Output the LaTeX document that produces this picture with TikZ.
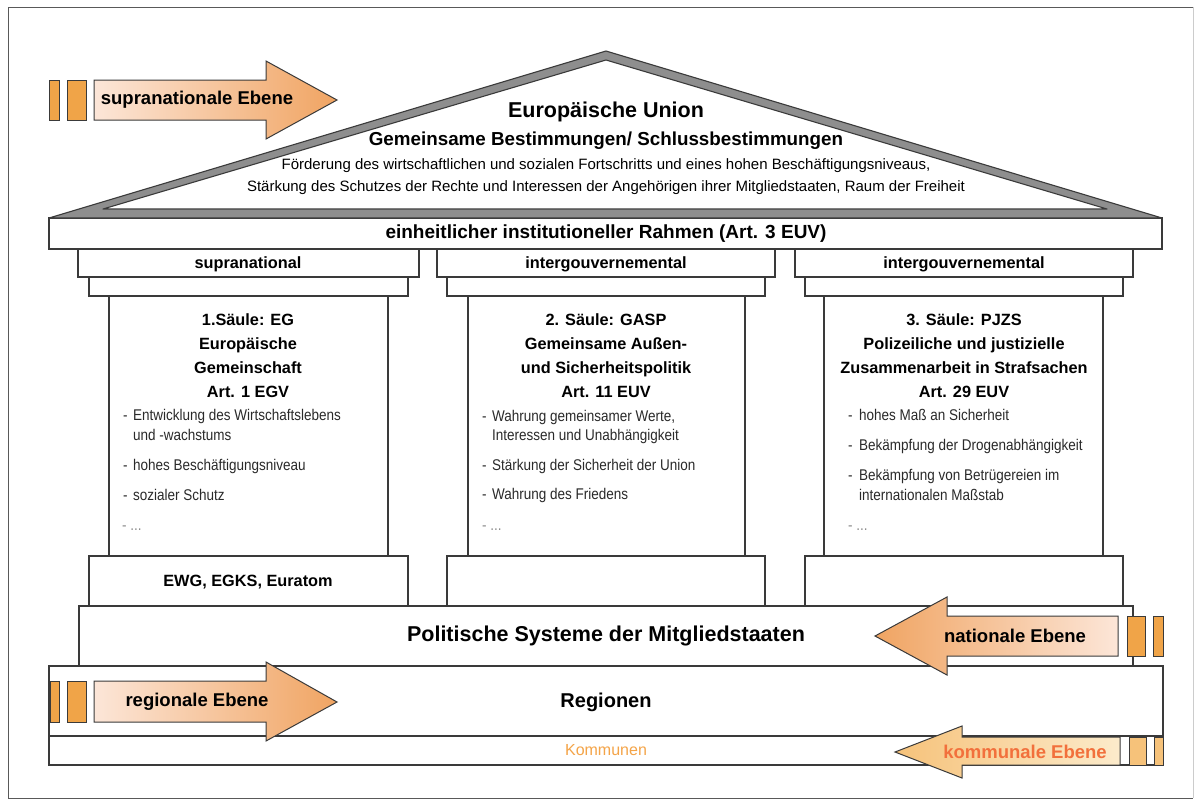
\documentclass[tikz,border=0pt]{standalone}
\usepackage{fontspec}
\setmainfont{Liberation Sans}
\newfontfamily\narrowfont{Liberation Sans}[FakeStretch=0.87]
\definecolor{linec}{HTML}{3A3A3A}
\definecolor{roofgray}{HTML}{8E8E8E}
\definecolor{orbar}{HTML}{F0A448}
\definecolor{orhead}{HTML}{F0A462}
\definecolor{orlight}{HTML}{FCE6D8}
\definecolor{kyel}{HTML}{F6C27A}
\definecolor{klight}{HTML}{FCEBCB}
\definecolor{ktext}{HTML}{F2703C}
\definecolor{kommc}{HTML}{F4A448}
\definecolor{itemc}{HTML}{2A2A2A}
\begin{document}
\begin{tikzpicture}[x=1pt,y=-1pt,
  box/.style={draw=linec, line width=1.1pt, fill=white},
  roofout/.style={draw=linec, line width=1.1pt, fill=roofgray, line join=round},
  roofin/.style={draw=linec, line width=1.1pt, fill=white, line join=round},
  arrR/.style={draw=linec, line width=1pt, left color=orlight, right color=orhead},
  arrL/.style={draw=linec, line width=1pt, left color=orhead, right color=orlight},
  arrK/.style={draw=linec, line width=1pt, left color=kyel, right color=klight},
  bar/.style={draw=linec, line width=0.9pt, fill=orbar},
  kbar/.style={draw=linec, line width=0.9pt, fill=kyel},
  title/.style={font=\bfseries\fontsize{21.5}{25}\selectfont},
  subtitle/.style={font=\bfseries\fontsize{18.8}{21}\selectfont},
  rooftext/.style={font=\fontsize{15}{22}\selectfont, align=center},
  bandtext/.style={font=\bfseries\fontsize{19}{22}\selectfont},
  captext/.style={font=\bfseries\fontsize{16.3}{19}\selectfont},
  headtext/.style={font=\bfseries\fontsize{16.3}{24}\selectfont, align=center},
  itemtext/.style={font=\narrowfont\fontsize{15.5}{17}\selectfont, anchor=base west, inner sep=0pt, text=itemc},
  dimtext/.style={font=\narrowfont\fontsize{15.5}{17}\selectfont, anchor=base west, inner sep=0pt, text=black!45},
  arrtext/.style={font=\bfseries\fontsize{18.5}{21}\selectfont}
]
\useasboundingbox (0,0) rectangle (1196,801);
\fill[white] (0,0) rectangle (1196,801);
% frame
\draw[black!65, line width=1pt] (1193,7) -- (8,7) -- (8,798) -- (1193,798);
\draw[black!20, line width=1pt] (1193,7) -- (1193,798);

% lower bands
\draw[box] (49,736) rectangle (1163,765);
\draw[box] (49,666) rectangle (1163,736);
\draw[box] (79,606) rectangle (1133,666);

% pillars
\foreach \a/\b/\c/\d/\e/\f in {78/419/89/408/109/388, 437/775/447/765/468/745, 795/1133/805/1123/824/1103}{
  \draw[box] (\c,556) rectangle (\d,606);
  \draw[box] (\e,296) rectangle (\f,556);
  \draw[box] (\c,277) rectangle (\d,296);
  \draw[box] (\a,249) rectangle (\b,277);
}

% main band
\draw[box] (49,218) rectangle (1162,249);
% roof
\draw[roofout] (49,218) -- (606,51) -- (1162,218) -- cycle;
\draw[roofin] (103,209) -- (606,60) -- (1107,209) -- cycle;

% roof texts
\node[title] (eu) at (606,112) {Europäische Union};
\node[subtitle] (gb) at (606,141) {Gemeinsame Bestimmungen/ Schlussbestimmungen};
\node[rooftext] (ziele) at (606,177) {Förderung des wirtschaftlichen und sozialen Fortschritts und eines hohen Beschäftigungsniveaus,\\Stärkung des Schutzes der Rechte und Interessen der Angehörigen ihrer Mitgliedstaaten, Raum der Freiheit};
\node[bandtext] (rahmen) at (606,234) {einheitlicher institutioneller Rahmen (Art. 3 EUV)};

% capitals
\node[captext] (c1) at (248,264) {supranational};
\node[captext] (c2) at (606,264) {intergouvernemental};
\node[captext] (c3) at (964,264) {intergouvernemental};

% pillar headings
\node[headtext] (h1) at (248,356) {1.Säule: EG\\Europäische\\Gemeinschaft\\Art. 1 EGV};
\node[headtext] (h2) at (606,356) {2. Säule: GASP\\Gemeinsame Außen-\\und Sicherheitspolitik\\Art. 11 EUV};
\node[headtext] (h3) at (964,356) {3. Säule: PJZS\\Polizeiliche und justizielle\\Zusammenarbeit in Strafsachen\\Art. 29 EUV};

% pillar 1 items
\node[itemtext] (d1a) at (123,420) {-};
\node[itemtext] (i1a) at (133,420) {Entwicklung des Wirtschaftslebens};
\node[itemtext] (i1b) at (133,440) {und -wachstums};
\node[itemtext] (d1c) at (123,470) {-};
\node[itemtext] (i1c) at (133,470) {hohes Beschäftigungsniveau};
\node[itemtext] (d1d) at (123,500) {-};
\node[itemtext] (i1d) at (133,500) {sozialer Schutz};
\node[dimtext] (i1e) at (122,530) {- ...};

% pillar 2 items
\node[itemtext] (d2a) at (482,421) {-};
\node[itemtext] (i2a) at (492,421) {Wahrung gemeinsamer Werte,};
\node[itemtext] (i2b) at (492,440) {Interessen und Unabhängigkeit};
\node[itemtext] (d2c) at (482,470) {-};
\node[itemtext] (i2c) at (492,470) {Stärkung der Sicherheit der Union};
\node[itemtext] (d2d) at (482,499) {-};
\node[itemtext] (i2d) at (492,499) {Wahrung des Friedens};
\node[dimtext] (i2e) at (482,530) {- ...};

% pillar 3 items
\node[itemtext] (d3a) at (848,420) {-};
\node[itemtext] (i3a) at (859,420) {hohes Maß an Sicherheit};
\node[itemtext] (d3b) at (848,450) {-};
\node[itemtext] (i3b) at (859,450) {Bekämpfung der Drogenabhängigkeit};
\node[itemtext] (d3c) at (848,480) {-};
\node[itemtext] (i3c) at (859,480) {Bekämpfung von Betrügereien im};
\node[itemtext] (i3d) at (859,500) {internationalen Maßstab};
\node[dimtext] (i3e) at (848,530) {- ...};

% bases and bands text
\node[captext] (ewg) at (248,582) {EWG, EGKS, Euratom};
\node[title] (pol) at (606,636) {Politische Systeme der Mitgliedstaaten};
\node[font=\bfseries\fontsize{20}{24}\selectfont] (reg) at (606,702) {Regionen};
\node[font=\fontsize{16}{19}\selectfont, text=kommc] (komm) at (606,750) {Kommunen};

% supranationale arrow
\draw[bar] (49,80) rectangle (59,120);
\draw[bar] (67,80) rectangle (86,120);
\shadedraw[arrR] (94,80) -- (266,80) -- (266,61) -- (337,100) -- (266,139) -- (266,120) -- (94,120) -- cycle;
\node[arrtext] (supra) at (197,100) {supranationale Ebene};

% regionale arrow
\draw[bar] (50,681) rectangle (59,722);
\draw[bar] (67,681) rectangle (86,722);
\shadedraw[arrR] (94,681) -- (266,681) -- (266,662) -- (337,702) -- (266,741) -- (266,722) -- (94,722) -- cycle;
\node[arrtext] (regio) at (197,702) {regionale Ebene};

% nationale arrow
\draw[bar] (1127,616) rectangle (1145,656);
\draw[bar] (1153,616) rectangle (1163,656);
\shadedraw[arrL] (1118,616) -- (947,616) -- (947,597) -- (875,636) -- (947,675) -- (947,656) -- (1118,656) -- cycle;
\node[arrtext] (nat) at (1015,636) {nationale Ebene};

% kommunale arrow
\draw[kbar] (1129,737) rectangle (1146,765);
\draw[kbar] (1154,737) rectangle (1163,765);
\shadedraw[arrK] (1120,737) -- (962,737) -- (962,726) -- (895,752) -- (962,778) -- (962,765) -- (1120,765) -- cycle;
\node[arrtext, text=ktext] (kom) at (1025,752) {kommunale Ebene};
\end{tikzpicture}
\end{document}
